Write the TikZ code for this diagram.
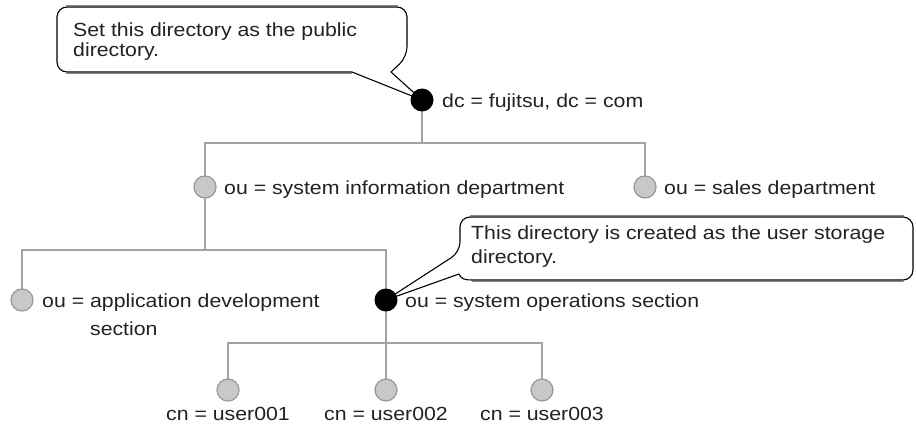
\documentclass[tikz,border=0pt]{standalone}
\usepackage{fontspec}
\setmainfont[FakeStretch=1.12]{Liberation Sans}
\usetikzlibrary{backgrounds}
\definecolor{treegray}{HTML}{A2A2A2}
\definecolor{dotfill}{HTML}{C8C8C8}
\definecolor{dotedge}{HTML}{989898}
\definecolor{txt}{HTML}{222222}
\definecolor{shade}{HTML}{8A8A8A}
\tikzset{
  tree/.style={draw=treegray, line width=2pt},
  blackdot/.style={circle, fill=black, minimum size=23pt, inner sep=0pt},
  graydot/.style={circle, fill=dotfill, draw=dotedge, line width=1.2pt, minimum size=22pt, inner sep=0pt},
  lbl/.style={anchor=base west, inner sep=0pt, text=txt, font=\fontsize{19}{20}\selectfont},
  ulbl/.style={anchor=base, inner sep=0pt, text=txt, font=\fontsize{19}{20}\selectfont},
  callout/.style={draw=black, line width=1.1pt, fill=white, line join=round},
  shadeline/.style={draw=shade, line width=1.6pt},
  ctext/.style={anchor=north west, inner sep=0pt, align=left, text=txt},
}
\begin{document}
\begin{tikzpicture}[x=1pt, y=-1pt]
\useasboundingbox (0,0) rectangle (916,428);
% nodes
\node[blackdot] (root) at (422,100) {};
\node[graydot] (sysinfo) at (205,187) {};
\node[graydot] (sales) at (645,187) {};
\node[graydot] (appdev) at (22,300) {};
\node[blackdot] (sysops) at (386,300) {};
\node[graydot] (u1) at (228,390) {};
\node[graydot] (u2) at (386,390) {};
\node[graydot] (u3) at (542,390) {};
\coordinate (j1) at (422,143);
\coordinate (j2) at (205,250);
\coordinate (j3) at (386,343);
% labels
\node[lbl] (rootlbl) at (442,107) {dc = fujitsu, dc = com};
\node[lbl] (sysinfolbl) at (224,194) {ou = system information department};
\node[lbl] (saleslbl) at (664,194) {ou = sales department};
\node[lbl] (sysopslbl) at (405,307) {ou = system operations section};
\node[lbl] (appdevlbl) at (42,307) {\begin{tabular}[t]{@{}l@{}l@{}}ou =~ & application development\\[8pt] & section\end{tabular}};
\node[ulbl] (u1lbl) at (228,420) {cn = user001};
\node[ulbl] (u2lbl) at (386,420) {cn = user002};
\node[ulbl] (u3lbl) at (542,420) {cn = user003};
% callout texts
\node[ctext, font=\fontsize{19}{20}\selectfont] (c1text) at (73,23) {Set this directory as the public\\directory.};
\node[ctext, font=\fontsize{19}{24}\selectfont] (c2text) at (471,226) {This directory is created as the user storage\\directory.};
\begin{pgfonlayer}{background}
  % tree connectors
  \draw[tree] (root.center) -- (j1);
  \draw[tree] (sysinfo.center) -- (sysinfo.center |- j1) -- (sales.center |- j1) -- (sales.center);
  \draw[tree] (sysinfo.center) -- (j2);
  \draw[tree] (appdev.center) -- (appdev.center |- j2) -- (sysops.center |- j2) -- (sysops.center);
  \draw[tree] (sysops.center) -- (j3);
  \draw[tree] (u1.center) -- (u1.center |- j3) -- (u3.center |- j3) -- (u3.center);
  \draw[tree] (u2.center) -- (u2.center |- j3);
  % callout 1
  \draw[shadeline] (66,5.6) -- (398,5.6);
  \draw[shadeline] (66,73.6) -- (352,73.6);
  \draw[callout] (352,72) [rounded corners=10pt] -- (57,72) -- (57,7) -- (407,7) -- (407,57) [sharp corners] -- (391,72) -- (root.center) -- cycle;
  % callout 2
  \draw[shadeline] (470,215.6) -- (904,215.6);
  \draw[shadeline] (472,281.6) -- (904,281.6);
  \draw[callout] (460,252) -- (sysops.center) -- (459,274) .. controls (461,279) and (465,280) .. (472,280) [rounded corners=10pt] -- (913,280) -- (913,217) -- (460,217) -- cycle;
\end{pgfonlayer}
\end{tikzpicture}
\end{document}
